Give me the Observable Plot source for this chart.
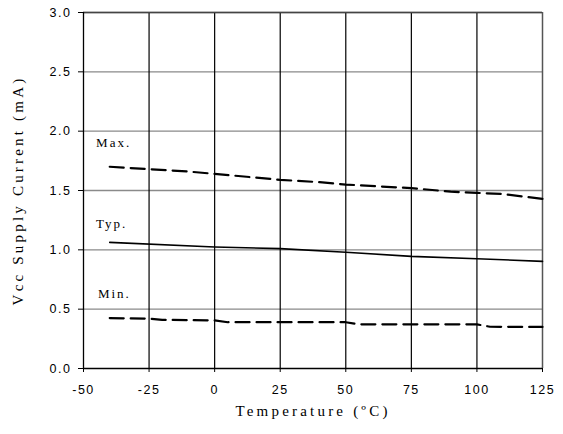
<!DOCTYPE html>
<html>
<head>
<meta charset="utf-8">
<script src="https://cdn.jsdelivr.net/npm/d3@7"></script>
<script src="https://cdn.jsdelivr.net/npm/@observablehq/plot@0.6"></script>
<style>
  html, body { margin: 0; padding: 0; background: #fff; }
</style>
</head>
<body>
<div id="chart"></div>
<script>
// ---- Data ----
const xTicks = [-50, -25, 0, 25, 50, 75, 100, 125];
const yTicks = [0, 0.5, 1.0, 1.5, 2.0, 2.5, 3.0];

const maxTemp = [-40, -25, -10, 0, 25, 40, 50, 75, 90, 100, 110, 125];
const maxVal  = [1.70, 1.68, 1.66, 1.64, 1.59, 1.57, 1.55, 1.52, 1.49, 1.48, 1.47, 1.43];

const typTemp = [-40, 0, 25, 50, 75, 100, 125];
const typVal  = [1.063, 1.024, 1.01, 0.98, 0.945, 0.925, 0.903];

const minTemp = [-40, -25, -20, 0, 5, 50, 55, 100, 105, 125];
const minVal  = [0.425, 0.42, 0.41, 0.405, 0.39, 0.39, 0.372, 0.372, 0.352, 0.35];

const seriesLabels = ["Max.", "Typ.", "Min."];
const labelX = [-45.2, -45.2, -44.5];
const labelY = [1.90, 1.22, 0.63];

const xTitle = "Temperature (ºC)";
const yTitle = "Vcc Supply Current (mA)";

// ---- Build tables ----
const maxData = maxTemp.map((t, i) => ({t, v: maxVal[i]}));
const typData = typTemp.map((t, i) => ({t, v: typVal[i]}));
const minData = minTemp.map((t, i) => ({t, v: minVal[i]}));
const labData = seriesLabels.map((s, i) => ({s, t: labelX[i], v: labelY[i]}));

const serif = "'Liberation Serif', 'DejaVu Serif', serif";
const sans = "'Liberation Sans', sans-serif";

const chart = Plot.plot({
  width: 563,
  height: 434,
  marginLeft: 83,
  marginRight: 21,
  marginTop: 12,
  marginBottom: 66,
  style: {fontFamily: sans, fontSize: "12px", background: "#fff", color: "#000"},
  x: {domain: [-50, 125], ticks: xTicks},
  y: {domain: [0, 3], ticks: yTicks},
  marks: [
    Plot.ruleY(yTicks.filter(d => d > 0), {stroke: "#8a8a8a", strokeWidth: 1.3}),
    Plot.ruleX(xTicks.filter(d => d > -50 && d < 125), {stroke: "#000", strokeWidth: 1.2}),
    Plot.ruleX([125], {stroke: "#555", strokeWidth: 1.5}),
    Plot.ruleY([3], {stroke: "#444", strokeWidth: 1.3}),
    Plot.ruleX([-50], {stroke: "#000", strokeWidth: 1.3}),
    Plot.ruleY([0], {stroke: "#000", strokeWidth: 1.3}),
    Plot.axisX({ticks: xTicks, tickSize: 4, tickPadding: 13, tickFormat: d => String(d),
      label: null, fontSize: 12.5, fontFamily: sans}),
    Plot.axisY({ticks: yTicks, tickSize: 5, tickPadding: 7, tickFormat: d => d.toFixed(1),
      label: null, fontSize: 12.5, fontFamily: sans}),
    Plot.line(maxData, {x: "t", y: "v", stroke: "#000", strokeWidth: 2.2, strokeDasharray: "14,7"}),
    Plot.line(typData, {x: "t", y: "v", stroke: "#000", strokeWidth: 1.6}),
    Plot.line(minData, {x: "t", y: "v", stroke: "#000", strokeWidth: 2.2, strokeDasharray: "14,7"}),
    Plot.text(labData, {x: "t", y: "v", text: "s", textAnchor: "start", fontSize: 13,
      fontFamily: serif}),
    Plot.text([xTitle], {frameAnchor: "bottom", dy: 47, textAnchor: "middle", fontSize: 15,
      fontFamily: serif}),
    Plot.text([yTitle], {frameAnchor: "left", dx: -65, rotate: -90, textAnchor: "middle",
      fontSize: 15, fontFamily: serif})
  ]
});
document.getElementById("chart").appendChild(chart);
// letter spacing to approximate the spaced-out look of the reference text
chart.querySelectorAll("text").forEach(t => {
  const s = t.textContent;
  if (s === xTitle || s === yTitle) t.setAttribute("letter-spacing", "3.2");
  if (seriesLabels.includes(s)) t.setAttribute("letter-spacing", "2");
  if (xTicks.map(String).includes(s) || yTicks.map(d => d.toFixed(1)).includes(s)) t.setAttribute("letter-spacing", "1.5");
});
</script>
</body>
</html>
